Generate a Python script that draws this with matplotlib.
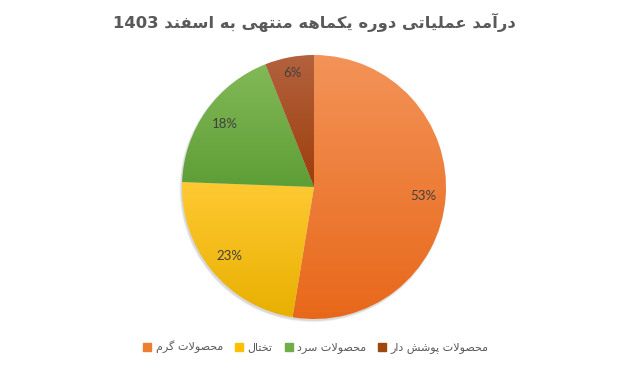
import re
import numpy as np
import matplotlib
matplotlib.use("Agg")
import matplotlib.pyplot as plt
from matplotlib.patches import Circle
from matplotlib.lines import Line2D
from matplotlib.colors import to_rgb

# ---------------- data ----------------
title_text = "درآمد عملیاتی دوره یکماهه منتهی به اسفند 1403"
categories = ["محصولات گرم", "تختال", "محصولات سرد", "محصولات پوشش دار"]
shares = [52.6, 23.0, 18.4, 6.0]
top_colors = ["#F39358", "#FFC933", "#82B957", "#B3623E"]
bottom_colors = ["#E8681A", "#E8B000", "#5E9E36", "#9C3E0C"]
legend_colors = ["#ED7D31", "#FFC000", "#70AD47", "#9E480E"]

# ------------- minimal Arabic/Persian shaping -------------
FORMS = {  # isolated, final, initial, medial
    "ا": ("\uFE8D", "\uFE8E", None, None),
    "آ": ("\uFE81", "\uFE82", None, None),
    "د": ("\uFEA9", "\uFEAA", None, None),
    "ر": ("\uFEAD", "\uFEAE", None, None),
    "و": ("\uFEED", "\uFEEE", None, None),
    "ب": ("\uFE8F", "\uFE90", "\uFE91", "\uFE92"),
    "ت": ("\uFE95", "\uFE96", "\uFE97", "\uFE98"),
    "ح": ("\uFEA1", "\uFEA2", "\uFEA3", "\uFEA4"),
    "خ": ("\uFEA5", "\uFEA6", "\uFEA7", "\uFEA8"),
    "س": ("\uFEB1", "\uFEB2", "\uFEB3", "\uFEB4"),
    "ش": ("\uFEB5", "\uFEB6", "\uFEB7", "\uFEB8"),
    "ص": ("\uFEB9", "\uFEBA", "\uFEBB", "\uFEBC"),
    "ع": ("\uFEC9", "\uFECA", "\uFECB", "\uFECC"),
    "ف": ("\uFED1", "\uFED2", "\uFED3", "\uFED4"),
    "ق": ("\uFED5", "\uFED6", "\uFED7", "\uFED8"),
    "ل": ("\uFEDD", "\uFEDE", "\uFEDF", "\uFEE0"),
    "م": ("\uFEE1", "\uFEE2", "\uFEE3", "\uFEE4"),
    "ن": ("\uFEE5", "\uFEE6", "\uFEE7", "\uFEE8"),
    "ه": ("\uFEE9", "\uFEEA", "\uFEEB", "\uFEEC"),
    "ی": ("\uFBFC", "\uFBFD", "\uFBFE", "\uFBFF"),
    "ک": ("\uFB8E", "\uFB8F", "\uFB90", "\uFB91"),
    "گ": ("\uFB92", "\uFB93", "\uFB94", "\uFB95"),
    "پ": ("\uFB56", "\uFB57", "\uFB58", "\uFB59"),
}
LAM_ALEF = {"ا": ("\uFEFB", "\uFEFC"), "آ": ("\uFEF5", "\uFEF6")}


def dual(c):
    return c in FORMS and FORMS[c][2] is not None


def shape(text):
    out = []
    i = 0
    n = len(text)
    while i < n:
        c = text[i]
        if c not in FORMS:
            out.append(c)
            i += 1
            continue
        prev = text[i - 1] if i > 0 else ""
        jp = dual(prev)
        if c == "ل" and i + 1 < n and text[i + 1] in LAM_ALEF:
            iso, fin = LAM_ALEF[text[i + 1]]
            out.append(fin if jp else iso)
            i += 2
            continue
        nxt = text[i + 1] if i + 1 < n else ""
        jn = dual(c) and nxt in FORMS
        iso, fin, ini, med = FORMS[c]
        if jp and jn:
            out.append(med)
        elif jp:
            out.append(fin)
        elif jn:
            out.append(ini)
        else:
            out.append(iso)
        i += 1
    s = "".join(out)[::-1]
    return re.sub(r"[0-9]+", lambda m: m.group(0)[::-1], s)


# ---------------- figure ----------------
W, H = 632, 365
fig = plt.figure(figsize=(W / 100, H / 100), dpi=100)
ax = fig.add_axes([0, 0, 1, 1])

cx, cy, R = 314, 178, 132

# soft shadow
for k, a in enumerate([0.10, 0.10, 0.12]):
    ax.add_patch(Circle((cx - 1.2, cy - 1.8), R + 1.2 - k * 0.6,
                        facecolor="#7f7f7f", edgecolor="none", alpha=a, zorder=1))

wedges, texts, autotexts = ax.pie(
    shares, startangle=90, counterclock=False, center=(cx, cy), radius=R,
    autopct="%.0f%%", pctdistance=0.83,
    wedgeprops=dict(linewidth=0, edgecolor="none"),
    textprops=dict(color="#404040", fontsize=9.5, family="Lato"),
)

for w, c1, c2 in zip(wedges, top_colors, bottom_colors):
    w.set_facecolor("none")
    w.set_zorder(2)
    ext = w.get_path().get_extents()
    t = np.linspace(0, 1, 256)[:, None]
    a1 = np.array(to_rgb(c1))
    a2 = np.array(to_rgb(c2))
    grad = (a2 * (1 - t) + a1 * t)[:, None, :]
    grad = np.repeat(grad, 2, axis=1)
    im = ax.imshow(grad, extent=[ext.x0, ext.x1, ext.y0, ext.y1],
                   origin="lower", interpolation="bilinear", zorder=2)
    im.set_clip_path(w)

# the small slice's label sits a little further out
w = wedges[3]
mid = np.deg2rad((w.theta1 + w.theta2) / 2)
autotexts[3].set_position((cx + 0.88 * R * np.cos(mid), cy + 0.88 * R * np.sin(mid)))

for t in autotexts:
    t.set_zorder(5)

ax.set_xlim(0, W)
ax.set_ylim(0, H)
ax.set_aspect("auto")
ax.axis("off")

fig.text(314 / W, 1 - 22 / H, shape(title_text), ha="center", va="center",
         fontsize=11.8, fontweight="bold", color="#595959", family="DejaVu Sans")

handles = [Line2D([], [], marker="s", linestyle="none", markersize=5.5,
                  markerfacecolor=c, markeredgecolor=c) for c in legend_colors]
leg = fig.legend(handles, [shape(c) for c in categories], loc="center",
                 bbox_to_anchor=(316 / W, 1 - 347 / H), ncol=4, frameon=False,
                 handlelength=0.7, handletextpad=0.4,
                 columnspacing=1.1, prop=dict(family="DejaVu Sans", size=8.0))
for t in leg.get_texts():
    t.set_color("#595959")

fig.savefig("out.png", dpi=100)
